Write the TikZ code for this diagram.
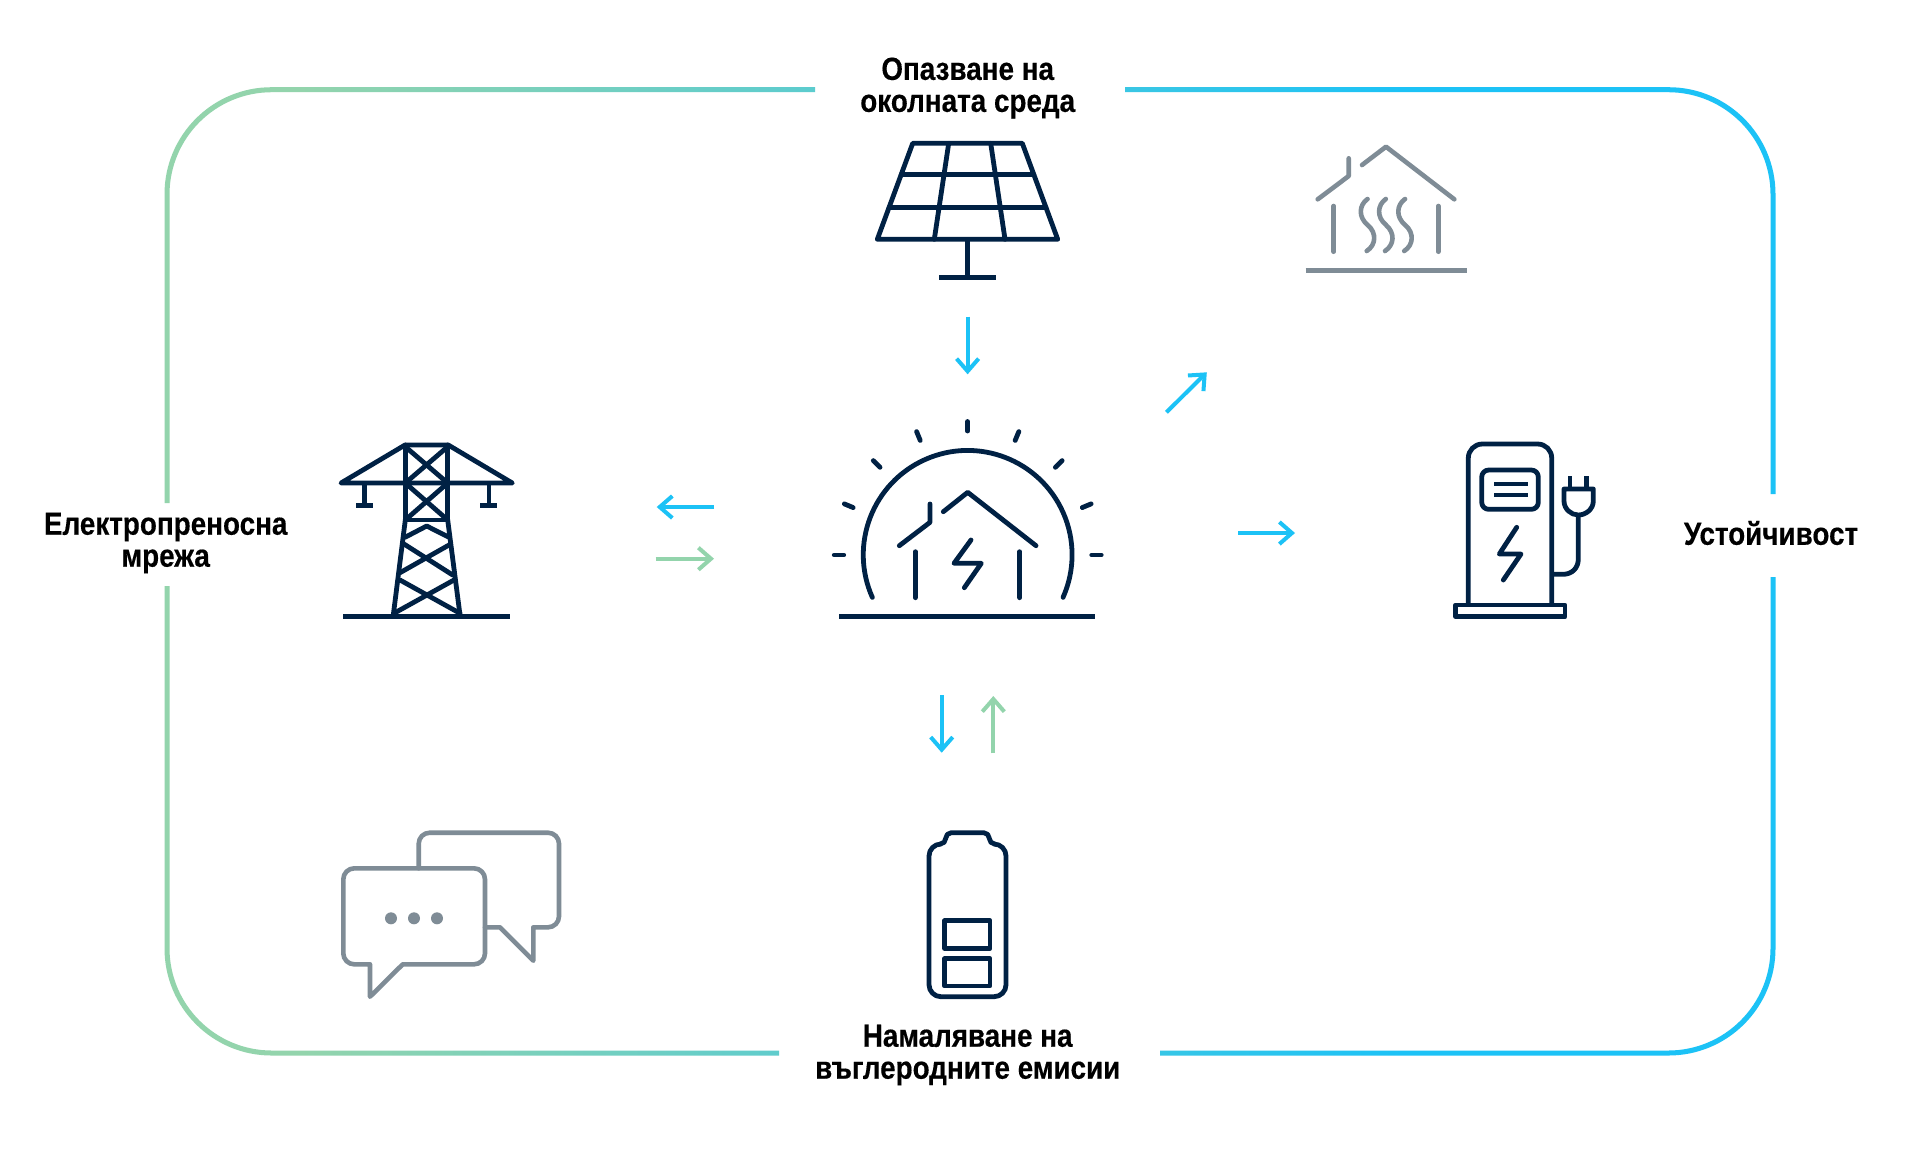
\documentclass[tikz,border=0pt]{standalone}
\usepackage{fontspec}
\usetikzlibrary{arrows.meta}
\newfontfamily\lab[BoldFeatures={FakeStretch=0.87,FakeBold=0.35}]{Liberation Sans}
\definecolor{navy}{HTML}{002144}
\definecolor{slate}{HTML}{7F8C96}
\definecolor{skyb}{HTML}{1CC2F6}
\definecolor{mint}{HTML}{93D4AC}
\pgfdeclarehorizontalshading{frameg}{100bp}{color(0bp)=(mint); color(29.2bp)=(mint); color(63.4bp)=(skyb); color(100bp)=(skyb)}
\tikzset{
  icon/.style={line width=2.4pt,line cap=round,line join=round,draw=navy},
  grayicon/.style={line width=2.3pt,line cap=round,line join=round,draw=slate},
  flat/.style={line cap=butt},
  flow/.style={line width=2pt,-{Straight Barb[length=6.3pt,width=11pt]}},
  toblue/.style={flow,draw=skyb},
  togreen/.style={flow,draw=mint},
  lbl/.style={font=\fontsize{16}{16}\selectfont\lab\bfseries,align=center,text=black,inner sep=0pt}
}
\begin{document}
\begin{tikzpicture}[x=0.5pt,y=-0.5pt]
\useasboundingbox (0,0) rectangle (1920,1169);
\fill[white] (0,0) rectangle (1920,1169);
% frame with gradient
\begin{scope}[even odd rule]
\clip (-5,-5) rectangle (1925,1174)
  (815,60) rectangle (1125,120)
  (779,1020) rectangle (1160,1090)
  (130,503) rectangle (200,586)
  (1740,494) rectangle (1810,577);
\path[shading=frameg]
  [rounded corners=53.5pt] (164.5,87.2) rectangle (1775.5,1055.5)
  [rounded corners=51.2pt] (169.5,92.2) rectangle (1770.5,1050.5);
\end{scope}
% labels
\node[lbl] (env) at (967.7,88) {Опазване на\\околната среда};
\node[lbl] (carbon) at (967.7,1055) {Намаляване на\\въглеродните емисии};
\node[lbl] (grid) at (165.7,543) {Електропреносна\\мрежа};
\node[lbl] (sustain) at (1771,533) {Устойчивост};
% solar panel
\draw[icon] (912.7,143.3) -- (1022.3,143.3) -- (1057.7,239.3) -- (877.3,239.3) -- cycle;
\draw[icon] (901.3,174.3) -- (1033.7,174.3) (889.1,207.3) -- (1045.9,207.3);
\draw[icon] (948.7,143.3) -- (934.3,239.3) (990.7,143.3) -- (1005,239.3);
\draw[icon,flat] (967.7,239.3) -- (967.7,277.3) (939.3,277.3) -- (995.7,277.3);
% heated house
\draw[grayicon] (1317.7,199.3) -- (1348.7,176) -- (1348.7,158.3);
\draw[grayicon] (1362,165) -- (1386,146.7) -- (1454.3,199.3);
\draw[grayicon] (1333.7,206) -- (1333.7,251.7) (1438.3,206) -- (1438.3,251.7);
\draw[grayicon,flat] (1305.7,270.7) -- (1466.7,270.7);
\foreach \d in {0,18.3,37.5}
  \draw[grayicon,xshift=\d*0.5pt] (1367.5,199) .. controls (1359,205) and (1358,217) .. (1367.7,225) .. controls (1377,233) and (1376,245) .. (1366.7,251);
% central sun house
\coordinate (sun) at (967.7,555);
\draw[icon] (872.3,597.3) arc[start angle=204,end angle=-24,radius=52.2pt];
\foreach \a in {180,202.5,...,360}
  \draw[icon,shift={(sun)}] (\a:124) -- (\a:133.5);
\draw[icon,flat] (839.3,616.3) -- (1095.3,616.3);
\draw[icon] (899.3,545.7) -- (930,522.3) -- (930,504);
\draw[icon] (943.3,511.7) -- (967.7,492.3) -- (1036,545.7);
\draw[icon] (915.3,551.7) -- (915.3,597.7) (1019.7,551.7) -- (1019.7,597.7);
\draw[icon] (971,540) -- (954,563.3) -- (981.3,563.3) -- (964.3,587.7);
% tower
\draw[icon,flat] (343,616.3) -- (510.3,616.3);
\draw[icon] (341,483) -- (512.3,483) -- (448.3,445) -- (405,445) -- cycle;
\draw[icon] (405.3,445) -- (405.3,520) (447.7,445) -- (447.7,520) (405.3,520) -- (447.7,520);
\draw[icon] (405.3,446.7) -- (447.7,483) (447.7,446.7) -- (405.3,483);
\draw[icon] (405.3,483) -- (447.7,520) (447.7,483) -- (405.3,520);
\draw[icon] (405.3,520) -- (393.3,615) (447.7,520) -- (460,615);
\draw[icon] (405,537.3) -- (426.7,526) -- (449,537.3);
\draw[icon] (404,544) -- (452.7,575) (449,545) -- (400,572.7);
\draw[icon] (400,580) -- (460,613.3) (454,580) -- (394,613.3);
\draw[icon,flat] (364.3,483) -- (364.3,505.3) (356,505.3) -- (372.7,505.3);
\draw[icon,flat] (489,483) -- (489,505.3) (480.3,505.3) -- (497,505.3);
% chat bubbles
\draw[grayicon] (418.7,868.3) [rounded corners=5.5pt] -- (418.7,832.7) -- (559,832.7) -- (559,927.3) [sharp corners] -- (533.3,927.3) -- (533.3,960.7) -- (500,927.3) -- (485,927.3);
\draw[grayicon] [rounded corners=5.5pt] (370,964.3) -- (343.3,964.3) -- (343.3,868.3) -- (485,868.3) -- (485,964.3) [sharp corners] -- (402.7,964.3) -- (370,996.7) -- cycle;
\foreach \x in {391,414,437} \fill[slate] (\x,918.3) circle[radius=3pt];
% battery
\draw[icon] (945.7,844) [rounded corners=2.8pt] -- (945.7,832.7) -- (989.3,832.7) -- (989.3,844) [rounded corners=6pt] -- (1006,844) -- (1006,996.7) -- (929,996.7) -- (929,844) [rounded corners=2.8pt] -- cycle;
\draw[icon] (944.7,920.7) rectangle (990,948.3);
\draw[icon] (944.7,958.7) rectangle (990,986);
% charger
\draw[icon] (1455.7,605) rectangle (1565,616.7);
\draw[icon,flat] (1468.3,605) [rounded corners=7pt] -- (1468.3,444) -- (1551.7,444) -- (1551.7,605);
\draw[icon] [rounded corners=3.5pt] (1481.7,470) rectangle (1538.3,509.3);
\draw[icon,flat] (1494.3,484) -- (1527.7,484) (1494.3,495) -- (1527.7,495);
\draw[icon] (1516.7,527.3) -- (1499.3,554) -- (1521,554) -- (1503.3,580);
\draw[icon,flat] (1551.7,574.3) -- (1563,574.3) .. controls (1572,574.3) and (1578.3,568) .. (1578.3,559) -- (1578.3,515);
\draw[icon] (1564,489) -- (1593.3,489) -- (1593.3,501) .. controls (1593.3,509) and (1586,515) .. (1578.3,515) .. controls (1571,515) and (1564,509) .. (1564,501) -- cycle;
\draw[icon,flat] (1570,476) -- (1570,489) (1586.7,476) -- (1586.7,489);
% arrows
\coordinate (a1s) at (967.6,316.7); \coordinate (a1e) at (967.6,374.3);
\coordinate (a2s) at (1166.4,412.3); \coordinate (a2e) at (1206.8,372.3);
\coordinate (a3s) at (1238,533); \coordinate (a3e) at (1295,533);
\coordinate (a4s) at (714,507); \coordinate (a4e) at (656.7,507);
\coordinate (a5s) at (655.7,558.7); \coordinate (a5e) at (714,558.7);
\coordinate (a6s) at (941.7,695); \coordinate (a6e) at (941.7,752.7);
\coordinate (a7s) at (993.3,753.3); \coordinate (a7e) at (993.3,696);
\draw[toblue] (a1s) -- (a1e);
\draw[toblue] (a2s) -- (a2e);
\draw[toblue] (a3s) -- (a3e);
\draw[toblue] (a4s) -- (a4e);
\draw[togreen] (a5s) -- (a5e);
\draw[toblue] (a6s) -- (a6e);
\draw[togreen] (a7s) -- (a7e);
\end{tikzpicture}
\end{document}
